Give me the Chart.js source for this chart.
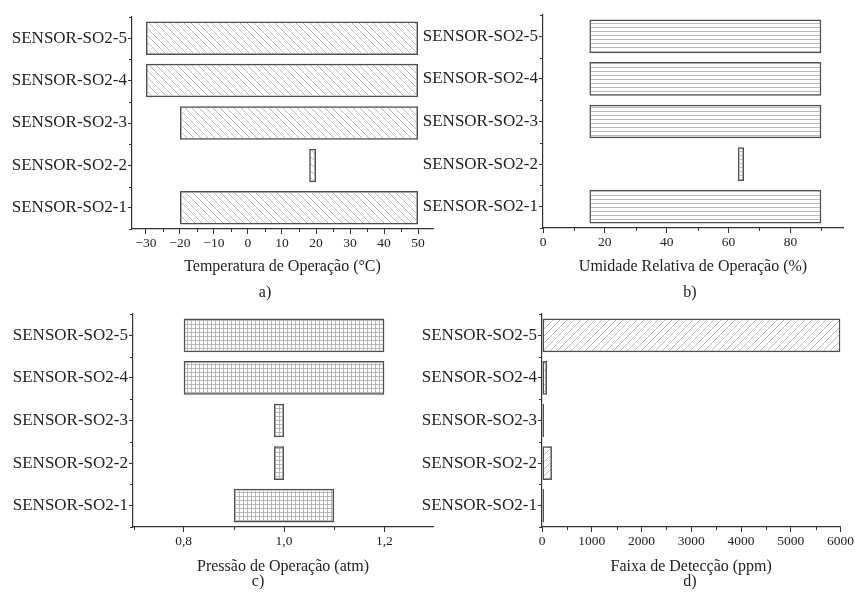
<!DOCTYPE html>
<html>
<head>
<meta charset="utf-8">
<script src="https://cdn.jsdelivr.net/npm/chart.js@4"></script>
<style>
  html, body { margin: 0; padding: 0; background: #fff; }
  #wrap { position: relative; width: 855px; height: 594px; overflow: hidden; }
  canvas { position: absolute; }
  .letter { position: absolute; font: 16px 'Liberation Serif', 'Times New Roman', serif; color: #222;
            transform: translate(-50%, -50%); white-space: nowrap; }
</style>
</head>
<body>
<div id="wrap">
  <canvas id="ca" width="440" height="297" style="left:0;top:0"></canvas>
  <canvas id="cb" width="440" height="297" style="left:415px;top:0"></canvas>
  <canvas id="cc" width="440" height="297" style="left:0;top:297px"></canvas>
  <canvas id="cd" width="440" height="297" style="left:415px;top:297px"></canvas>
</div>
<script>
"use strict";

// categories, bottom to top
var sensors = ["SENSOR-SO2-1", "SENSOR-SO2-2", "SENSOR-SO2-3", "SENSOR-SO2-4", "SENSOR-SO2-5"];

// a) operating temperature (°C)
var tempMin = [-20, 18, -20, -30, -30];
var tempMax = [50, 20, 50, 50, 50];
// b) operating relative humidity (%)
var humMin = [15, 63, 15, 15, 15];
var humMax = [90, 65, 90, 90, 90];
// c) operating pressure (atm)
var presMin = [0.9, 0.98, 0.98, 0.8, 0.8];
var presMax = [1.1, 1.0, 1.0, 1.2, 1.2];
// d) detection range (ppm)
var rangeMin = [0, 0, 0, 0, 0];
var rangeMax = [40, 200, 40, 100, 6000];

var axisTitles = ["Temperatura de Operação (°C)", "Umidade Relativa de Operação (%)",
  "Pressão de Operação (atm)", "Faixa de Detecção (ppm)"];
var panelLetters = ["a)", "b)", "c)", "d)"];

var FONT = "'Liberation Serif', 'Times New Roman', serif";
var INK = "#222";
var AXIS = "#333";

Chart.defaults.font.family = FONT;
Chart.defaults.color = INK;

var makePattern = function(kind) {
  var s = kind === "horiz" || kind === "grid" ? 4 : 7;
  var c = document.createElement("canvas");
  c.width = s;
  c.height = s;
  var g = c.getContext("2d");
  g.strokeStyle = "#a8a8a8";
  g.lineWidth = 0.8;
  g.beginPath();
  var k;
  if (kind === "back") {
    for (k = -1; k <= 1; k++) { g.moveTo(0, k * s); g.lineTo(s, s + k * s); }
  } else if (kind === "fwd") {
    for (k = 0; k <= 2; k++) { g.moveTo(0, k * s); g.lineTo(s, k * s - s); }
  } else {
    g.moveTo(0, s - 0.5); g.lineTo(s, s - 0.5);
    if (kind === "grid") { g.moveTo(s - 0.5, 0); g.lineTo(s - 0.5, s); }
  }
  g.stroke();
  return g.createPattern(c, "repeat");
};

var pairs = function(lo, hi) {
  return lo.map(function(v, i) { return [v, hi[i]]; });
};

// small ticks between the labelled ones, and between the categories
var minorTicks = {
  id: "minorTicks",
  afterDraw: function(chart) {
    var ctx = chart.ctx, x = chart.scales.x, y = chart.scales.y;
    var t = x.ticks, step = t[1].value - t[0].value;
    var vals = [t[0].value - step / 2];
    t.forEach(function(tk) { vals.push(tk.value + step / 2); });
    ctx.save();
    ctx.strokeStyle = AXIS;
    ctx.lineWidth = 1;
    ctx.beginPath();
    vals.forEach(function(v) {
      if (v < x.min || v > x.max) return;
      var px = Math.round(x.getPixelForValue(v)) + 0.5;
      ctx.moveTo(px, x.top);
      ctx.lineTo(px, x.top + 3);
    });
    for (var j = 0; j <= sensors.length; j++) {
      var py = Math.round(y.getPixelForValue(j - 0.5)) + 0.5;
      ctx.moveTo(y.right - 3, py);
      ctx.lineTo(y.right, py);
    }
    ctx.stroke();
    ctx.restore();
  }
};

var drawPanel = function(id, cfg) {
  new Chart(document.getElementById(id), {
    type: "bar",
    plugins: [minorTicks],
    data: {
      labels: sensors,
      datasets: [{
        data: pairs(cfg.lo, cfg.hi),
        backgroundColor: makePattern(cfg.hatch),
        borderColor: "#505050",
        borderWidth: 1.5,
        borderSkipped: false,
        barPercentage: 0.79,
        categoryPercentage: 1
      }]
    },
    options: {
      indexAxis: "y",
      responsive: false,
      animation: false,
      devicePixelRatio: 1,
      layout: { padding: cfg.pad },
      plugins: { legend: { display: false }, tooltip: { enabled: false } },
      scales: {
        x: {
          type: "linear",
          min: cfg.min,
          max: cfg.max,
          afterFit: function(s) { s.height = cfg.xh; },
          border: { color: AXIS, width: 1.2 },
          grid: { drawOnChartArea: false, tickLength: 5, tickColor: AXIS },
          ticks: {
            stepSize: cfg.step,
            includeBounds: false,
            padding: 1,
            color: INK,
            font: { size: 13.5 },
            maxRotation: 0,
            callback: cfg.fmt
          },
          title: {
            display: true,
            text: cfg.title,
            color: INK,
            padding: 0,
            font: { size: 16 }
          }
        },
        y: {
          reverse: true,
          afterFit: function(s) { s.width = cfg.yw; },
          border: { color: AXIS, width: 1.2 },
          grid: { drawOnChartArea: false, offset: false, tickLength: 4, tickColor: AXIS },
          ticks: { padding: 1, color: INK, font: { size: 17 } }
        }
      }
    }
  });
};

var minusSign = function(v) { return String(v).replace("-", "\u2212"); };

drawPanel("ca", {
  lo: tempMin, hi: tempMax, hatch: "back", min: -34.1, max: 54.4, step: 10,
  fmt: minusSign, title: axisTitles[0],
  pad: { top: 17, right: 7, left: 0, bottom: 21 }, yw: 132, xh: 47
});
drawPanel("cb", {
  lo: humMin, hi: humMax, hatch: "horiz", min: 0, max: 97, step: 20,
  fmt: minusSign, title: axisTitles[1],
  pad: { top: 15, right: 12, left: 0, bottom: 21 }, yw: 128, xh: 48
});
drawPanel("cc", {
  lo: presMin, hi: presMax, hatch: "grid", min: 0.699, max: 1.297, step: 0.2,
  fmt: function(v) { return v.toFixed(1).replace(".", ","); }, title: axisTitles[2],
  pad: { top: 17, right: 7, left: 0, bottom: 18 }, yw: 133, xh: 49
});
drawPanel("cd", {
  lo: rangeMin, hi: rangeMax, hatch: "fwd", min: 0, max: 6000, step: 1000,
  fmt: minusSign, title: axisTitles[3],
  pad: { top: 17, right: 13, left: 0, bottom: 18 }, yw: 127, xh: 49
});

// panel letters under each axis title
var letterPos = [[265, 292], [690, 292], [258, 581], [690, 581]];
var wrap = document.getElementById("wrap");
panelLetters.forEach(function(txt, i) {
  var d = document.createElement("div");
  d.className = "letter";
  d.textContent = txt;
  d.style.left = letterPos[i][0] + "px";
  d.style.top = letterPos[i][1] + "px";
  wrap.appendChild(d);
});
</script>
</body>
</html>
